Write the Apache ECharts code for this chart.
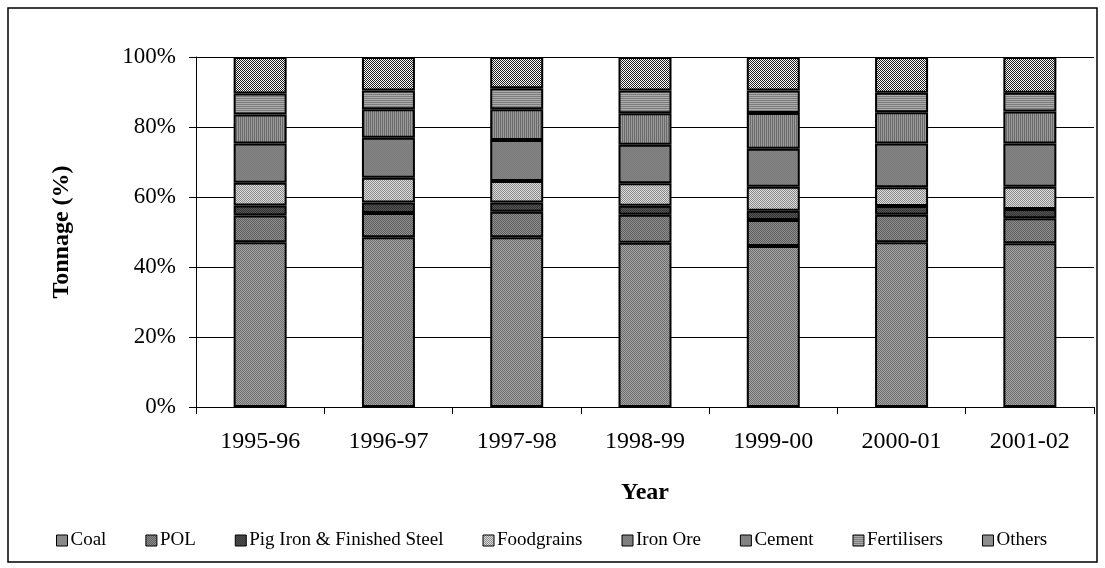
<!DOCTYPE html>
<html>
<head>
<meta charset="utf-8">
<script src="https://cdn.jsdelivr.net/npm/echarts@6/dist/echarts.min.js"></script>
<style>
  html, body { margin: 0; padding: 0; background: #fff; }
  #main { width: 1105px; height: 568px; }
</style>
</head>
<body>
<div id="main"></div>
<script>
// categories and tonnage share (%)
var years = ['1995-96', '1996-97', '1997-98', '1998-99', '1999-00', '2000-01', '2001-02'];
var coal        = [47.1, 48.5, 48.5, 46.9, 46.0, 47.1, 46.8];
var pol         = [7.6, 6.9, 7.3, 8.0, 7.4, 7.8, 7.1];
var pigIron     = [2.9, 3.0, 2.6, 2.6, 2.7, 2.5, 2.7];
var foodgrains  = [6.5, 7.1, 6.2, 6.4, 6.8, 5.4, 6.3];
var ironOre     = [11.2, 11.4, 11.7, 11.0, 10.9, 12.5, 12.4];
var cement      = [8.3, 8.2, 8.8, 9.0, 10.2, 8.9, 9.1];
var fertilisers = [6.0, 5.3, 6.0, 6.5, 6.4, 5.6, 5.4];
var others      = [10.4, 9.6, 8.9, 9.6, 9.6, 10.2, 10.2];
var yTicks = ['0%', '20%', '40%', '60%', '80%', '100%'];

// small canvas tiles to imitate the excel fill patterns
function pattern(kind, a, b) {
    var c = document.createElement('canvas');
    c.width = 4; c.height = 4;
    var ctx = c.getContext('2d');
    ctx.fillStyle = a;
    ctx.fillRect(0, 0, 4, 4);
    ctx.fillStyle = b;
    for (var y = 0; y < 4; y++) {
        for (var x = 0; x < 4; x++) {
            var on = false;
            if (kind == 'checker') on = (x + y) % 2 == 0;
            if (kind == 'h') on = y % 2 == 0;
            if (kind == 'v') on = x % 2 == 0;
            if (on) ctx.fillRect(x, y, 1, 1);
        }
    }
    return { image: c, repeat: 'repeat' };
}

var fills = {
    'Coal': pattern('checker', '#a4a4a4', '#6e6e6e'),
    'POL': pattern('checker', '#8f8f8f', '#5e5e5e'),
    'Pig Iron & Finished Steel': pattern('checker', '#555555', '#333333'),
    'Foodgrains': pattern('checker', '#dcdcdc', '#8a8a8a'),
    'Iron Ore': pattern('checker', '#848484', '#7a7a7a'),
    'Cement': pattern('v', '#9a9a9a', '#6a6a6a'),
    'Fertilisers': pattern('h', '#ababab', '#7c7c7c'),
    'Others': pattern('checker', '#ffffff', '#1e1e1e')
};

var seriesData = [
    ['Coal', coal],
    ['POL', pol],
    ['Pig Iron & Finished Steel', pigIron],
    ['Foodgrains', foodgrains],
    ['Iron Ore', ironOre],
    ['Cement', cement],
    ['Fertilisers', fertilisers],
    ['Others', others]
];

var font = 'Liberation Serif';
var myChart = echarts.init(document.getElementById('main'));
var option = {
    animation: false,
    textStyle: { fontFamily: font, color: '#000' },
    graphic: [{
        type: 'rect',
        shape: { x: 8, y: 8, width: 1089, height: 554 },
        style: { fill: 'none', stroke: '#000', lineWidth: 1.5 },
        silent: true
    }],
    grid: { left: 196, right: 11, top: 57, bottom: 161 },
    legend: {
        left: 51,
        top: 526,
        itemWidth: 11,
        itemHeight: 11,
        itemGap: 39,
        icon: 'rect',
        textStyle: { fontFamily: font, fontSize: 19, color: '#000', padding: [0, 0, 0, -2] },
        itemStyle: { borderColor: '#000', borderWidth: 1 },
        data: seriesData.map(function (s) { return s[0]; })
    },
    xAxis: {
        type: 'category',
        data: years,
        name: 'Year',
        nameLocation: 'middle',
        nameGap: 74,
        nameTextStyle: { fontFamily: font, fontSize: 24, fontWeight: 'bold', color: '#000' },
        axisLine: { lineStyle: { color: '#000', width: 1 } },
        axisTick: { show: true, length: 7, lineStyle: { color: '#000' } },
        axisLabel: { fontFamily: font, fontSize: 24, color: '#000', margin: 23 }
    },
    yAxis: {
        type: 'value',
        min: 0,
        max: 100,
        interval: 20,
        name: 'Tonnage (%)',
        nameLocation: 'middle',
        nameGap: 122,
        nameTextStyle: { fontFamily: font, fontSize: 24, fontWeight: 'bold', color: '#000' },
        axisLine: { show: true, lineStyle: { color: '#000', width: 1 } },
        axisTick: { show: true, length: 7, lineStyle: { color: '#000' } },
        splitLine: { show: true, lineStyle: { color: '#000', width: 1 } },
        axisLabel: {
            fontFamily: font, fontSize: 23, color: '#000', margin: 20,
            formatter: function (v) { return yTicks[v / 20]; }
        }
    },
    series: seriesData.map(function (s) {
        return {
            name: s[0],
            type: 'bar',
            stack: 'total',
            barWidth: 53,
            data: s[1],
            itemStyle: { color: fills[s[0]], borderColor: '#000', borderWidth: 2 }
        };
    })
};
myChart.setOption(option);
window.addEventListener('resize', function () {
    myChart.resize();
});
</script>
</body>
</html>
